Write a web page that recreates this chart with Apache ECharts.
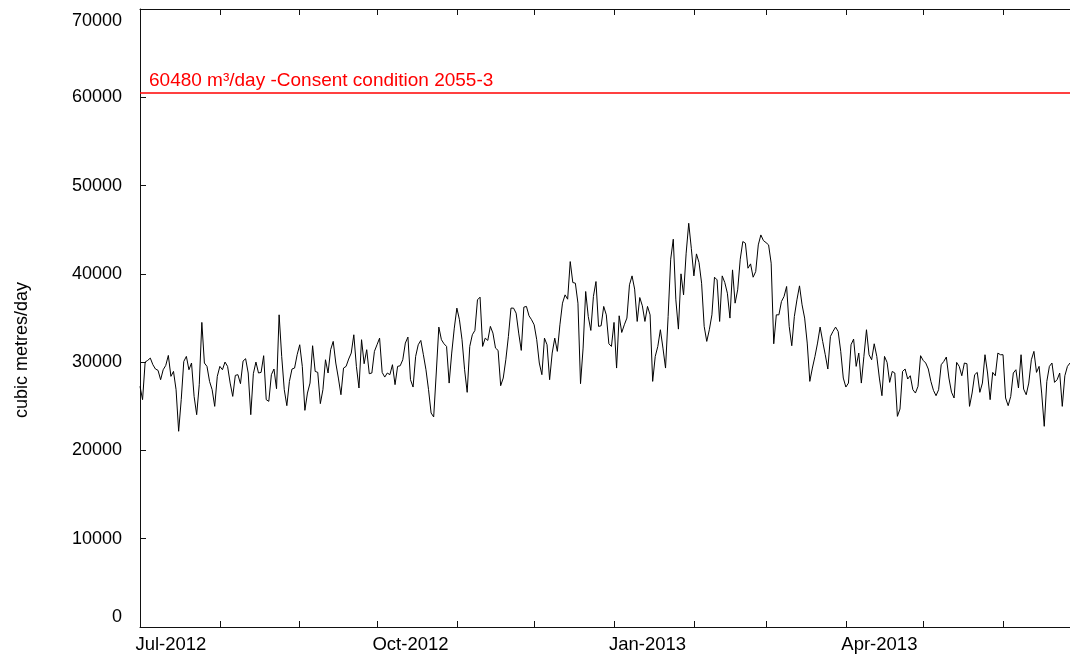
<!DOCTYPE html>
<html>
<head>
<meta charset="utf-8">
<script src="https://cdn.jsdelivr.net/npm/echarts@6/dist/echarts.min.js"></script>
<style>
html,body{margin:0;padding:0;background:#fff;}
#chart{width:1070px;height:657px;}
</style>
</head>
<body>
<div id="chart"></div>
<script>
// ---- data (daily flow, starting 1 Jul 2012) ----
const startDate = '2012-07-01';
const flow = [
27260,25750,30010,30200,30460,29710,29220,29070,28010,29140,
29630,30760,28390,28950,26880,22170,25750,30080,30650,29140,
29900,26120,24050,27450,34500,29900,29520,27820,26880,24990,
28390,29520,29140,30010,29520,27630,26120,28500,28580,27560,
30120,30390,28770,24050,28690,30010,28770,28840,30730,25750,
25560,28580,29220,26990,35360,30650,26880,25070,27820,29220,
29330,30840,31970,29520,24540,26500,27630,31860,28950,28840,
25300,26880,30270,28770,31410,32350,29900,28200,26310,29330,
29520,30350,31030,33100,29520,27070,32540,29820,31410,28690,
28770,31220,31970,32720,28840,28310,28770,28580,29710,27450,
29520,29590,30270,32160,32840,28010,27180,30650,31970,32460,
30840,29140,26880,24240,23790,28770,33970,32540,32080,31780,
27630,31030,33850,36120,34800,32540,29140,26580,31780,33100,
33590,37060,37360,31780,32720,32460,34050,33290,31590,31330,
27330,28200,30270,32910,36120,36120,35550,33290,31330,36230,
36310,35250,34800,34230,32540,29900,28580,32720,31970,28010,
31030,32720,31220,34230,36680,37620,37130,41390,39020,38940,
36680,27560,31590,38000,35170,33590,37440,39130,34050,34120,
36310,35360,32080,31780,34500,29330,35250,33360,34230,34990,
38760,39770,38270,34610,37320,36380,34610,36310,35360,27820,
30650,31780,33670,31590,29330,35170,41660,43920,37060,33740,
40000,37620,42340,45730,42900,39770,42260,41280,38940,34050,
32350,33670,35360,39620,39320,34610,39770,39020,37810,34990,
40450,36680,38190,41660,43660,43470,40640,41130,39620,40260,
43280,44410,43770,43540,43280,41210,32080,35360,35360,36870,
37440,38570,34050,31860,35170,37060,38640,36490,34990,32160,
27820,29330,30650,32160,33970,32350,30840,29220,32910,33480,
33970,33480,31220,28200,27180,27630,31970,32610,29520,31030,
27630,30650,33670,30840,30270,32080,30650,28200,26200,30650,
29970,27710,28950,28770,23860,24690,28950,29220,28090,28460,
26880,26500,27260,30730,30200,29900,29220,27820,26800,26200,
26880,29710,30080,30580,28200,26600,25940,29970,29520,28460,
29900,29820,24990,26500,28580,28840,26580,27630,30840,28770,
25750,28840,28460,31030,30840,30840,25940,25070,26120,28770,
29140,27070,30840,26950,26310,27630,30270,31220,28840,29520,
26500,22730,27820,29520,29900,27710,28010,28770,24990,28460,
29520,29900
];
const consentLimit = 60480;
const consentLabel = '60480 m\u00b3/day -Consent condition 2055-3';
const yAxisTitle = 'cubic metres/day';
const labelMonths = ['Jul', 'Oct', 'Jan', 'Apr'];
const monthNames = ['Jan','Feb','Mar','Apr','May','Jun','Jul','Aug','Sep','Oct','Nov','Dec'];
const yMin = 0, yMax = 70000, yStep = 10000;

// ---- category dates ----
const dates = [];
(function () {
  const d0 = new Date(startDate + 'T00:00:00Z');
  for (let i = 0; i < flow.length; i++) {
    const d = new Date(d0.getTime() + i * 86400000);
    dates.push(d.toISOString().slice(0, 10));
  }
})();
function isMonthStart(i, v) { return v.slice(8, 10) === '01'; }
function isLabelDay(i, v) {
  const m = monthNames[parseInt(v.slice(5, 7), 10) - 1];
  const day = (m === 'Jul') ? '13' : '14';
  return v.slice(8, 10) === day && labelMonths.indexOf(m) >= 0;
}
function fmtLabel(v) {
  return monthNames[parseInt(v.slice(5, 7), 10) - 1] + '-' + v.slice(0, 4);
}
function fmtY(v) {
  if (v === yMax) return '{top|' + v + '}';
  if (v === yMin) return '{bot|' + v + '}';
  return String(v);
}

const FONT = '"Liberation Sans", Arial, Helvetica, sans-serif';
const RED = '#ff0000';
const axisLineStyle = { color: '#111', width: 1 };

const chart = echarts.init(document.getElementById('chart'), null, { renderer: 'canvas' });
chart.setOption({
  animation: false,
  backgroundColor: '#fff',
  textStyle: { fontFamily: FONT },
  grid: { left: 140, right: 0, top: 9, bottom: 30, containLabel: false, outerBoundsMode: 'none' },
  xAxis: [{
    type: 'category',
    data: dates,
    boundaryGap: false,
    axisLine: { show: true, lineStyle: axisLineStyle },
    axisTick: { show: true, inside: true, length: 6, interval: isMonthStart, lineStyle: axisLineStyle },
    axisLabel: { interval: isLabelDay, formatter: fmtLabel, color: '#000', fontSize: 18.5, fontFamily: FONT, margin: 8 },
    splitLine: { show: false }
  }, {
    type: 'category',
    data: dates,
    position: 'top',
    boundaryGap: false,
    axisLine: { show: true, lineStyle: axisLineStyle },
    axisTick: { show: true, inside: true, length: 6, interval: isMonthStart, lineStyle: axisLineStyle },
    axisLabel: { show: false },
    splitLine: { show: false }
  }],
  yAxis: [{
    type: 'value',
    min: yMin, max: yMax, interval: yStep,
    axisLine: { show: true, lineStyle: axisLineStyle },
    axisTick: { show: true, inside: true, length: 6, lineStyle: axisLineStyle },
    axisLabel: {
      color: '#000', fontSize: 18, fontFamily: FONT, margin: 18,
      formatter: fmtY,
      rich: {
        top: { fontSize: 18, fontFamily: FONT, color: '#000', padding: [24, 0, 0, 0] },
        bot: { fontSize: 18, fontFamily: FONT, color: '#000', padding: [0, 0, 20, 0] }
      }
    },
    splitLine: { show: false }
  }],
  graphic: [{
    type: 'text',
    x: 22, y: 350,
    rotation: Math.PI / 2,
    style: {
      text: yAxisTitle, fill: '#000', fontSize: 18, fontFamily: FONT,
      align: 'center', verticalAlign: 'middle'
    }
  }],
  series: [{
    type: 'line',
    data: flow,
    color: '#000',
    showSymbol: false,
    symbol: 'none',
    lineStyle: { color: '#000', width: 1 },
    emphasis: { disabled: true },
    markLine: {
      silent: true,
      symbol: ['none', 'none'],
      itemStyle: { color: RED },
      lineStyle: { color: RED, width: 1.5, type: 'solid', opacity: 1 },
      label: {
        show: true, position: 'insideStartTop', formatter: consentLabel,
        color: RED, fontSize: 19, fontFamily: FONT, distance: [9, 3]
      },
      data: [{
        yAxis: consentLimit,
        itemStyle: { color: RED },
        lineStyle: { color: RED, width: 1.5, type: 'solid', opacity: 1 }
      }]
    }
  }]
});
</script>
</body>
</html>
